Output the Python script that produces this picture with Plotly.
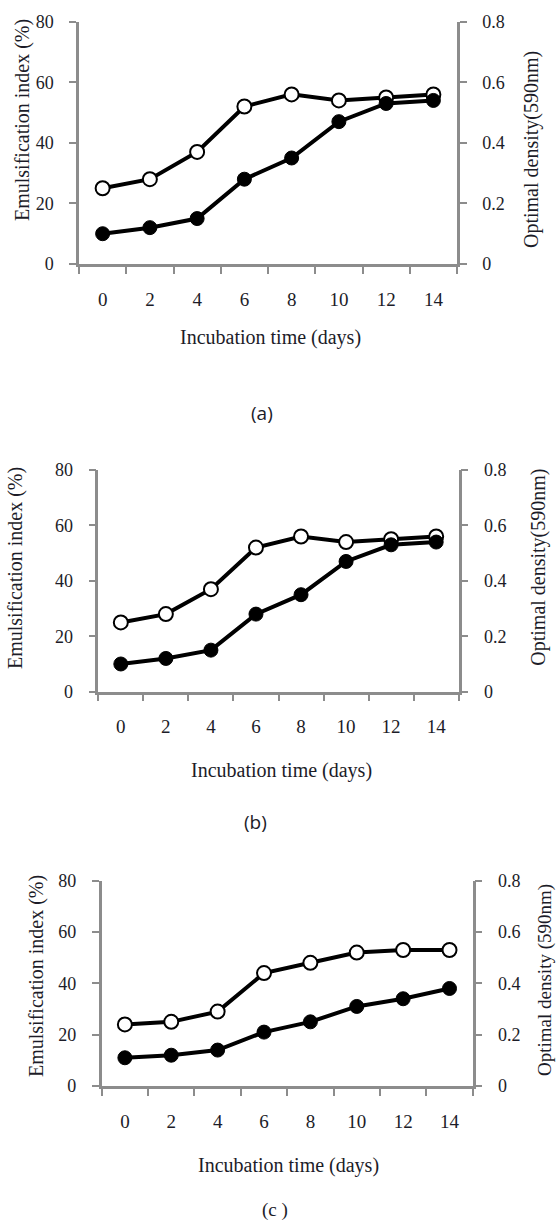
import plotly.graph_objects as go

days = ["0", "2", "4", "6", "8", "10", "12", "14"]

# Panel (a)
a_open = [25, 28, 37, 52, 56, 54, 55, 56]
a_filled_od = [0.10, 0.12, 0.15, 0.28, 0.35, 0.47, 0.53, 0.54]
# Panel (b)
b_open = [25, 28, 37, 52, 56, 54, 55, 56]
b_filled_od = [0.10, 0.12, 0.15, 0.28, 0.35, 0.47, 0.53, 0.54]
# Panel (c)
c_open = [24, 25, 29, 44, 48, 52, 53, 53]
c_filled_od = [0.11, 0.12, 0.14, 0.21, 0.25, 0.31, 0.34, 0.38]

left_ticks = [0, 20, 40, 60, 80]
right_ticks = [0, 0.2, 0.4, 0.6, 0.8]
right_labels = ["0", "0.2", "0.4", "0.6", "0.8"]

x_title = "Incubation time (days)"
y_title = "Emulsification index (%)"
y2_titles = ["Optimal density(590nm)", "Optimal density(590nm)", "Optimal density (590nm)"]
panel_labels = ["(a)", "(b)", "(c )"]

W, H = 556, 1221
FONT = "Liberation Serif"
GRAY = "#8c8c8c"
TXT = "#1c1c28"

def px_x(v):
    return v / W

def px_y(v):
    return 1 - v / H

# panel geometry in pixels: left, right, top, bottom
panels = [
    dict(l=79, r=457, t=21.7, b=264, ys=20,
         ylt=(22, 120), yrt=(531, 150), xt=(270, 337), lab=(262, 413)),
    dict(l=98.3, r=458.7, t=470, b=691.7, ys=20,
         ylt=(15, 568), yrt=(537.7, 567), xt=(281, 770), lab=(255, 822)),
    dict(l=101.7, r=472.7, t=880.7, b=1086, ys=19,
         ylt=(37, 976), yrt=(545, 980), xt=(288, 1165), lab=(275, 1210)),
]

opens = [a_open, b_open, c_open]
filleds = [a_filled_od, b_filled_od, c_filled_od]

fig = go.Figure()
annotations = []

for i, p in enumerate(panels):
    xn = "x" if i == 0 else f"x{i+1}"
    yl = f"y{2*i+1}" if i > 0 else "y"
    yr = f"y{2*i+2}"
    # filled series on right axis (optical density)
    fig.add_trace(go.Scatter(
        x=days, y=filleds[i], xaxis=xn, yaxis=yr, mode="lines+markers",
        line=dict(color="black", width=4),
        marker=dict(symbol="circle", size=14, color="black",
                    line=dict(color="black", width=1)),
        showlegend=False))
    # open series on left axis (emulsification index)
    fig.add_trace(go.Scatter(
        x=days, y=opens[i], xaxis=xn, yaxis=yl, mode="lines+markers",
        line=dict(color="black", width=4),
        marker=dict(symbol="circle", size=14, color="white",
                    line=dict(color="black", width=2)),
        showlegend=False))

    xkey = "xaxis" if i == 0 else f"xaxis{i+1}"
    ylkey = "yaxis" if i == 0 else f"yaxis{2*i+1}"
    yrkey = f"yaxis{2*i+2}"
    dom_x = [px_x(p["l"]), px_x(p["r"])]
    dom_y = [px_y(p["b"]), px_y(p["t"])]

    fig.layout[xkey] = dict(
        domain=dom_x, anchor=yl, type="category", range=[-0.5, 7.5],
        tickson="boundaries", ticks="outside", ticklen=7, tickwidth=2,
        tickcolor=GRAY, showline=True, linecolor=GRAY, linewidth=2.5,
        showgrid=False, zeroline=False, fixedrange=True, automargin=False,
        tickfont=dict(family=FONT, size=19, color=TXT),
        ticklabelstandoff=16)
    fig.layout[ylkey] = dict(
        domain=dom_y, anchor=xn, range=[0, 80], tickvals=left_ticks,
        ticks="outside", ticklen=7, tickwidth=2, tickcolor=GRAY,
        showline=True, linecolor=GRAY, linewidth=2.5, showgrid=False,
        zeroline=False, fixedrange=True, automargin=False,
        tickfont=dict(family=FONT, size=18, color=TXT),
        ticklabelstandoff=12)
    fig.layout[yrkey] = dict(
        overlaying=yl, anchor=xn, side="right", range=[0, 0.8],
        tickvals=right_ticks, ticktext=right_labels,
        ticks="outside", ticklen=7, tickwidth=2, tickcolor=GRAY,
        showline=True, linecolor=GRAY, linewidth=2.5, showgrid=False,
        zeroline=False, fixedrange=True, automargin=False,
        tickfont=dict(family=FONT, size=18, color=TXT),
        ticklabelstandoff=12)

    annotations.append(dict(
        text=y_title, x=px_x(p["ylt"][0]), y=px_y(p["ylt"][1]),
        xref="paper", yref="paper", showarrow=False, textangle=-90,
        xanchor="center", yanchor="middle",
        font=dict(family=FONT, size=20, color=TXT)))
    annotations.append(dict(
        text=y2_titles[i], x=px_x(p["yrt"][0]), y=px_y(p["yrt"][1]),
        xref="paper", yref="paper", showarrow=False, textangle=-90,
        xanchor="center", yanchor="middle",
        font=dict(family=FONT, size=p["ys"], color=TXT)))
    annotations.append(dict(
        text=x_title, x=px_x(p["xt"][0]), y=px_y(p["xt"][1]),
        xref="paper", yref="paper", showarrow=False,
        xanchor="center", yanchor="middle",
        font=dict(family=FONT, size=20, color=TXT)))
    annotations.append(dict(
        text=panel_labels[i], x=px_x(p["lab"][0]), y=px_y(p["lab"][1]),
        xref="paper", yref="paper", showarrow=False,
        xanchor="center", yanchor="middle",
        font=dict(family="Open Sans" if i < 2 else FONT, size=19, color=TXT)))

fig.update_layout(
    width=W, height=H, margin=dict(l=0, r=0, t=0, b=0, autoexpand=False),
    paper_bgcolor="white", plot_bgcolor="white",
    annotations=annotations, showlegend=False)

fig.write_html("out.html", config={"displayModeBar": False},
               post_script="document.body.style.margin='0';document.body.style.padding='0';")
